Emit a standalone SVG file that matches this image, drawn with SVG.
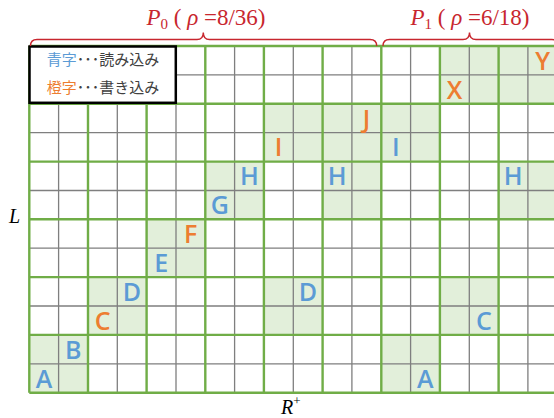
<svg xmlns="http://www.w3.org/2000/svg" width="554" height="418" viewBox="0 0 554 418">
<defs>
<style>
.sh{fill:#E2EFDA}
.gl{stroke:#7F7F7F;stroke-width:1.3;fill:none}
.gr{stroke:#70AD47;stroke-width:2.4;fill:none}
.brace{stroke:#C8262E;stroke-width:1.4;fill:none}
.ttl{font-family:"Liberation Serif",serif;font-size:23px;fill:#C8262E}
.it{font-style:italic}
.lt{font-family:"Open Sans","Liberation Sans",sans-serif;font-weight:600;font-size:25px;text-anchor:middle}
.b{fill:#5B9BD5}
.o{fill:#ED7D31}
.lg{font-family:"Noto Sans CJK JP","Noto Sans",sans-serif;font-size:15px;fill:#404040;text-anchor:middle}
.ax{font-family:"Liberation Serif",serif;font-style:italic;font-size:20px;fill:#000}
</style>
</defs>
<rect width="554" height="418" fill="#fff"/>

<g id="shading">
<rect class="sh" x="29.3" y="334.9" width="58.7" height="57.8"/>
<rect class="sh" x="88.0" y="277.1" width="58.6" height="57.8"/>
<rect class="sh" x="263.9" y="277.1" width="58.7" height="57.8"/>
<rect class="sh" x="439.9" y="277.1" width="58.7" height="57.8"/>
<rect class="sh" x="146.6" y="219.3" width="58.7" height="57.8"/>
<rect class="sh" x="205.3" y="161.6" width="58.6" height="57.7"/>
<rect class="sh" x="322.6" y="161.6" width="58.7" height="57.7"/>
<rect class="sh" x="498.6" y="161.6" width="58.6" height="57.7"/>
<rect class="sh" x="263.9" y="103.8" width="176.0" height="57.8"/>
<rect class="sh" x="381.3" y="334.9" width="58.6" height="57.8"/>
<rect class="sh" x="439.9" y="46" width="117.3" height="57.8"/>
</g>

<g id="grid">
<path class="gl" d="M58.6 46V392.7M117.3 46V392.7M176.0 46V392.7M234.6 46V392.7M293.3 46V392.7M351.9 46V392.7M410.6 46V392.7M469.3 46V392.7M527.9 46V392.7M29.3 74.9H557M29.3 132.7H557M29.3 190.5H557M29.3 248.2H557M29.3 306.0H557M29.3 363.8H557"/>
<path class="gr" d="M29.3 46V392.7M88.0 46V392.7M146.6 46V392.7M205.3 46V392.7M263.9 46V392.7M322.6 46V392.7M381.3 46V392.7M439.9 46V392.7M498.6 46V392.7M29.3 46H557M29.3 103.8H557M29.3 161.6H557M29.3 219.3H557M29.3 277.1H557M29.3 334.9H557M29.3 392.7H557"/>
</g>

<g id="legend">
<rect x="29.5" y="46.5" width="146.3" height="56.3" fill="#fff" stroke="#000" stroke-width="2.5"/>
<text class="lg" x="103" y="65"><tspan class="b">青字</tspan>･･･読み込み</text>
<text class="lg" x="103" y="93"><tspan class="o">橙字</tspan>･･･書き込み</text>
</g>

<g id="partitions">
<path class="brace" d="M30.5 46Q30.5 39.5 37 39.5H197Q203.3 39.5 203.3 32.5Q203.3 39.5 209.5 39.5H370Q376.7 39.5 376.7 46"/>
<path class="brace" d="M383 46Q383 39.5 389.5 39.5H463Q469.5 39.5 469.5 32.5Q469.5 39.5 476 39.5H552Q558 39.5 558 46"/>
<text class="ttl" x="206" y="25" text-anchor="middle"><tspan class="it">P</tspan><tspan font-size="15" dy="4">0</tspan><tspan dy="-4"> ( </tspan><tspan class="it">ρ</tspan> =8/36)</text>
<text class="ttl" x="470" y="25" text-anchor="middle"><tspan class="it">P</tspan><tspan font-size="15" dy="4">1</tspan><tspan dy="-4"> ( </tspan><tspan class="it">ρ</tspan> =6/18)</text>
</g>

<g id="letters">
<text class="lt b" x="44.0" y="387.5">A</text>
<text class="lt b" x="73.3" y="358.6">B</text>
<text class="lt o" x="102.6" y="329.7">C</text>
<text class="lt b" x="132.0" y="300.8">D</text>
<text class="lt b" x="161.3" y="272.0">E</text>
<text class="lt o" x="190.6" y="243.1">F</text>
<text class="lt b" x="219.9" y="214.2">G</text>
<text class="lt b" x="249.3" y="185.3">H</text>
<text class="lt o" x="278.6" y="156.4">I</text>
<text class="lt o" x="366.6" y="127.5">J</text>
<text class="lt b" x="395.9" y="156.4">I</text>
<text class="lt b" x="337.2" y="185.3">H</text>
<text class="lt b" x="513.2" y="185.3">H</text>
<text class="lt b" x="307.9" y="300.8">D</text>
<text class="lt b" x="483.9" y="329.7">C</text>
<text class="lt b" x="425.3" y="387.5">A</text>
<text class="lt o" x="454.6" y="98.6">X</text>
<text class="lt o" x="542.6" y="69.7">Y</text>
</g>

<g id="axes">
<text class="ax" x="9" y="223">L</text>
<text class="ax" x="281" y="414">R<tspan font-size="13" font-style="normal" dy="-9">+</tspan></text>
</g>
</svg>
